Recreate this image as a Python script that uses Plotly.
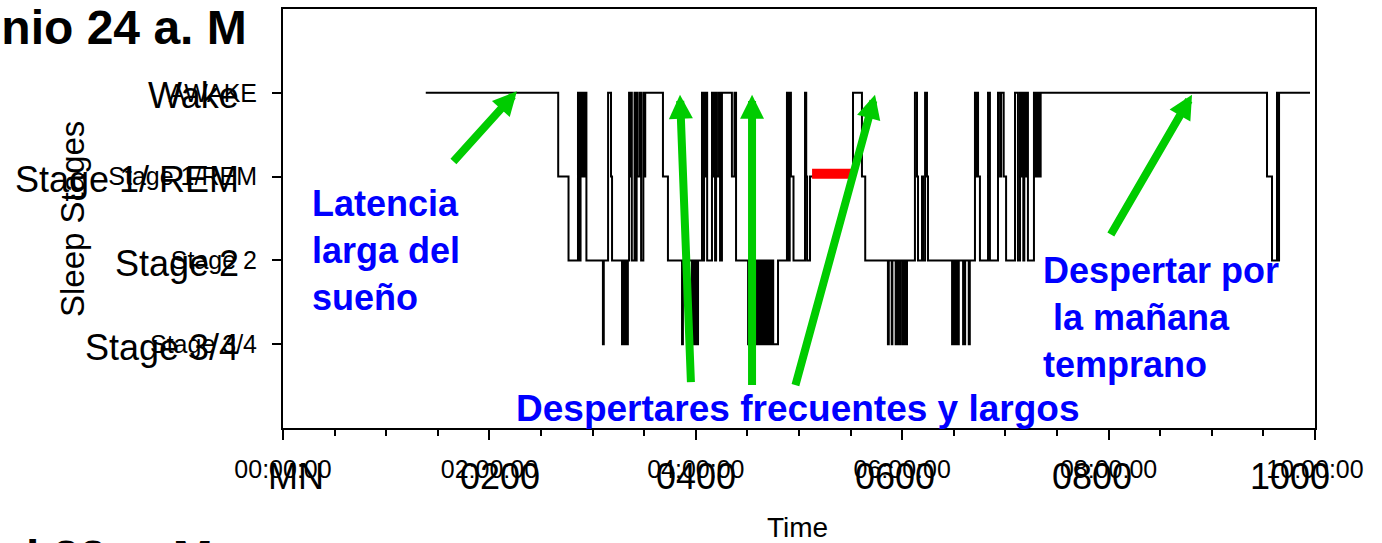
import plotly.graph_objects as go

# ---------------- data ----------------
# hypnogram: minute since midnight where each stage starts (step, held until next)
epoch_min = [83, 160, 166, 171.5, 172.3, 173, 173.6, 174.3, 175, 175.8, 176.4,
             186, 186.5, 189, 190.7, 191.3,
             197.1, 197.8, 198.4, 199.2, 199.8, 200.5,
             201.2, 201.7, 202.3, 202.8, 204.4, 205, 205.6, 206.2, 207.5, 208.2, 209.5, 210, 210.6,
             220.9, 223.8, 232, 232.5,
             237.8, 238.3, 238.8, 239.4, 239.9, 240.5, 241, 241.3,
             243.6, 244.2, 244.8, 245.4, 246, 246.6, 249.4, 250, 250.6, 251.2, 251.8, 252.3, 253.5, 254.1,
             255.2, 261, 262.5, 263.4, 270.4,
             275.6, 276, 276.5, 277, 277.5, 278, 278.5, 279, 279.5, 280, 280.5, 281, 281.5,
             282, 282.5, 283, 283.5, 284, 284.5, 285, 287.8,
             293, 293.6, 294.6, 295.3, 296.8, 303.5, 304.2, 304.7, 306.4,
             331.4, 336.6, 338.5,
             351.7, 352.2, 353.9, 354.3, 356.2, 356.6, 357.4, 357.9, 358.5, 359.1,
             360.3, 360.8, 361.3, 361.8, 362.3, 362.8,
             367.4, 368.6, 369.2, 371.5, 372.1, 373.3, 374.4, 375,
             389, 389.5, 390, 390.5, 391, 391.5, 392.5, 392.9, 395.4, 395.8, 396.3, 396.6, 398.7, 399.3,
             402.3, 403, 403.5, 404.1, 405.2, 409.9, 411, 415.7, 416.9, 417.5, 419, 420.4,
             425.6, 427.3, 428.5, 429.2, 429.8, 430.4, 431, 431.7, 432.3, 433.1,
             436.6, 437.5, 438.1, 438.7, 439.3, 439.9, 440.5,
             572.1, 575, 577.9, 578.5, 579.1, 597.1]
stage_seq = ("W R 2 W 2 W R W R W 2 "
             "3 2 W R 2 "
             "3 2 3 2 3 2 "
             "W R W 2 W 2 W R W 2 W R W "
             "R 2 3 2 "
             "3 2 3 2 3 2 3 2 "
             "W 2 W R W 2 W R W 2 W R W 2 "
             "W R W 2 3 "
             "2 3 2 3 2 3 2 3 2 3 2 3 2 "
             "3 2 3 2 3 2 3 2 "
             "W 2 W R 2 W R 2 R "
             "W R 2 "
             "3 2 3 2 3 2 3 2 3 2 "
             "3 2 3 2 3 2 "
             "W R 2 R 2 W R 2 "
             "3 2 3 2 3 2 3 2 3 2 3 2 3 2 "
             "W R W R 2 W 2 W R W R 2 "
             "W 2 W R W 2 W R W 2 "
             "W R W R W R W "
             "R 2 W 2 W W").split()

stage_levels = {"W": 4, "R": 3, "2": 2, "3": 1}
stage_ticks = [1, 2, 3, 4]
stage_ticktext_small = ["Stage 3/4", "Stage 2", "Stage 1/REM", "AWAKE"]
stage_ticktext_large = ["Stage 3/4", "Stage 2", "Stage 1/ REM", "Wake"]

time_ticks = [0, 120, 240, 360, 480, 600]
time_ticktext_small = ["00:00:00", "02:00:00", "04:00:00", "06:00:00", "08:00:00", "10:00:00"]
time_ticktext_large = ["MN", "0200", "0400", "0600", "0800", "1000"]
time_minor = [30, 60, 90, 150, 180, 210, 270, 300, 330, 390, 420, 450, 510, 540, 570]

# REM marker (red bar)
rem_bar_min = [307.6, 333.1]
rem_bar_level = [3.035, 3.035]

assert len(epoch_min) == len(stage_seq)
stage_vals = [stage_levels[s] for s in stage_seq]

# ---------------- figure ----------------
FONT = "Liberation Sans, Arial, sans-serif"
BLUE = "#0000FF"
GREEN = "#00CC00"

fig = go.Figure()
fig.add_trace(go.Scatter(x=epoch_min, y=stage_vals, mode="lines",
                         line=dict(color="black", width=2, shape="hv"),
                         hoverinfo="skip"))
fig.add_trace(go.Scatter(x=rem_bar_min, y=rem_bar_level, mode="lines",
                         line=dict(color="#FF0000", width=10), hoverinfo="skip"))

# large overlaid tick labels
large_x_pos = [7.6, 126.2, 240.1, 355.8, 470.4, 585.5]
annotations = []
for xv, txt in zip(large_x_pos, time_ticktext_large):
    annotations.append(dict(x=xv, y=-0.115, xref="x", yref="paper", text=txt,
                            showarrow=False, xanchor="center", yanchor="middle",
                            font=dict(family=FONT, size=36, color="black")))
for yv, txt in zip(stage_ticks, stage_ticktext_large):
    annotations.append(dict(x=-0.0405, y=yv, xref="paper", yref="y", text=txt,
                            showarrow=False, xanchor="right", yanchor="middle", yshift=-3,
                            font=dict(family=FONT, size=36, color="black")))

# axis titles
annotations.append(dict(x=0.4990, y=-0.237, xref="paper", yref="paper", text="Time",
                        showarrow=False, xanchor="center", yanchor="middle",
                        font=dict(family=FONT, size=28, color="black")))
annotations.append(dict(x=-0.204, y=0.5, xref="paper", yref="paper", text="Sleep Stages",
                        showarrow=False, textangle=-90, xanchor="center", yanchor="middle",
                        font=dict(family=FONT, size=33, color="black")))

# titles (partially off-canvas)
annotations.append(dict(x=-0.0325, y=0.955, xref="paper", yref="paper",
                        text="<b>Insomnio 24 a. M</b>", showarrow=False,
                        xanchor="right", yanchor="middle",
                        font=dict(family=FONT, size=48, color="black")))
annotations.append(dict(x=-0.0659, y=-0.310, xref="paper", yref="paper",
                        text="<b>Normal 22 a. M</b>", showarrow=False,
                        xanchor="right", yanchor="middle",
                        font=dict(family=FONT, size=48, color="black")))

# blue notes
annotations.append(dict(x=0.0262, y=0.4246, xref="paper", yref="paper",
                        text="<b>Latencia<br>larga del<br>sueño</b>", showarrow=False,
                        xanchor="left", yanchor="middle", align="left",
                        font=dict(family=FONT, size=36, color=BLUE)))
annotations.append(dict(x=0.4995, y=0.0466, xref="paper", yref="paper",
                        text="<b>Despertares frecuentes y largos</b>", showarrow=False,
                        xanchor="center", yanchor="middle",
                        font=dict(family=FONT, size=37, color=BLUE)))
annotations.append(dict(x=0.7345, y=0.263, xref="paper", yref="paper",
                        text="<b>Despertar por<br>\u00a0la mañana<br>temprano</b>", showarrow=False,
                        xanchor="left", yanchor="middle", align="left",
                        font=dict(family=FONT, size=36, color=BLUE)))

# green arrows (tail -> tip)
arrow_tail_min = [98.3, 237.2, 272.7, 297.7, 480.8]
arrow_tail_lvl = [3.162, 0.530, 0.494, 0.494, 2.29]
arrow_tip_min = [136.0, 230.8, 272.7, 344.2, 528.5]
arrow_tip_lvl = [4.019, 3.977, 3.977, 3.977, 3.977]
for tx, ty, hx, hy in zip(arrow_tail_min, arrow_tail_lvl, arrow_tip_min, arrow_tip_lvl):
    annotations.append(dict(x=hx, y=hy, ax=tx, ay=ty, xref="x", yref="y", axref="x", ayref="y",
                            text="", showarrow=True, arrowhead=2, arrowsize=0.6,
                            arrowwidth=8, arrowcolor=GREEN, standoff=0, startstandoff=0))

fig.update_layout(
    width=1382, height=543,
    margin=dict(l=283, r=67, t=7, b=115),
    paper_bgcolor="white", plot_bgcolor="white",
    showlegend=False,
    font=dict(family=FONT, color="black"),
    annotations=annotations,
    xaxis=dict(range=[0, 600], tickmode="array", tickvals=time_ticks,
               ticktext=time_ticktext_small, ticks="outside", ticklen=10, tickwidth=2,
               tickcolor="black", showline=True, linecolor="black", linewidth=2,
               mirror=True, showgrid=False, zeroline=False,
               tickfont=dict(family=FONT, size=25, color="black"),
               ticklabelstandoff=8,
               minor=dict(tickmode="array", tickvals=time_minor, ticks="outside",
                          ticklen=6, tickwidth=2, tickcolor="black", showgrid=False)),
    yaxis=dict(range=[0, 5], tickmode="array", tickvals=stage_ticks,
               ticktext=stage_ticktext_small, ticks="outside", ticklen=9, tickwidth=2,
               tickcolor="black", showline=True, linecolor="black", linewidth=2,
               mirror=True, showgrid=False, zeroline=False,
               tickfont=dict(family=FONT, size=25, color="black"),
               ticklabelstandoff=10),
)

fig.write_html("out.html")
